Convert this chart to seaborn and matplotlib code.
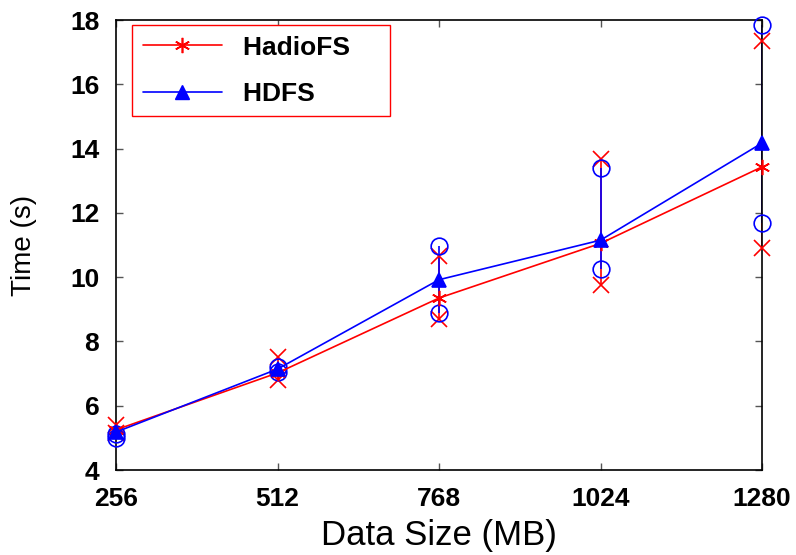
import numpy as np
import pandas as pd
import matplotlib
matplotlib.use("Agg")
import matplotlib.pyplot as plt
from matplotlib.lines import Line2D
import seaborn as sns

# data
sizes = [256, 512, 768, 1024, 1280]

hadio_mean = [5.25, 7.02, 9.35, 11.05, 13.43]
hadio_lo = [5.15, 6.80, 8.70, 9.75, 10.92]
hadio_hi = [5.40, 7.52, 10.65, 13.68, 17.35]

hdfs_mean = [5.18, 7.14, 9.92, 11.15, 14.17]
hdfs_lo = [5.00, 7.05, 8.88, 10.25, 11.67]
hdfs_hi = [5.12, 7.22, 10.97, 13.40, 17.83]

series = ["HadioFS", "HDFS"]
colors = {"HadioFS": "#ff0000", "HDFS": "#0000ff"}

sns.set_style("ticks")
plt.rcParams["font.family"] = ["Liberation Sans", "DejaVu Sans"]
plt.rcParams["text.color"] = "black"
plt.rcParams["axes.labelcolor"] = "black"
plt.rcParams["xtick.labelcolor"] = "black"
plt.rcParams["ytick.labelcolor"] = "black"

df = pd.DataFrame({
    "size": sizes * 2,
    "mean": hadio_mean + hdfs_mean,
    "lo": hadio_lo + hdfs_lo,
    "hi": hadio_hi + hdfs_hi,
    "fs": ["HadioFS"] * 5 + ["HDFS"] * 5,
})

fig = plt.figure(figsize=(7.96, 5.55), dpi=100)
ax = fig.add_axes([116 / 796, 1 - 470 / 555, (762 - 116) / 796, (470 - 20) / 555])

asterisk = (6, 2, 0)
end_marker = {"HadioFS": "x", "HDFS": "o"}
mean_marker = {"HadioFS": asterisk, "HDFS": "^"}

for fs in series:
    d = df[df["fs"] == fs]
    c = colors[fs]
    # error range
    ax.vlines(d["size"], d["lo"], d["hi"], color=c, lw=1.2, zorder=2)
    for col in ["lo", "hi"]:
        ax.plot(d["size"], d[col], ls="none", marker=end_marker[fs], ms=12,
                mfc="none", mec=c, mew=1.2, zorder=3, clip_on=False)
    sns.lineplot(data=d, x="size", y="mean", color=c, lw=1.2, ax=ax,
                 marker=mean_marker[fs], markersize=11 if fs == "HadioFS" else 10,
                 markeredgecolor=c, markerfacecolor=c, markeredgewidth=1.2,
                 zorder=4, clip_on=False)

ax.set_xlim(256, 1280)
ax.set_ylim(4, 18)
ax.set_xticks(sizes)
ax.set_yticks(range(4, 19, 2))
ax.tick_params(direction="in", length=5, width=1, top=True, right=True,
               labelsize=19, color="#555555", labelcolor="black")
ax.tick_params(axis="x", pad=12)
ax.tick_params(axis="y", pad=12)
for lab in ax.get_xticklabels() + ax.get_yticklabels():
    lab.set_fontweight("bold")
for sp in ax.spines.values():
    sp.set_linewidth(1.2)
    sp.set_color("black")

ax.set_xlabel("Data Size (MB)", fontsize=25, labelpad=6, color="black")
ax.set_ylabel("Time (s)", fontsize=20, labelpad=24, color="black")

handles = [
    Line2D([], [], color=colors["HadioFS"], lw=1.2, marker=asterisk, ms=11, mew=1.2),
    Line2D([], [], color=colors["HDFS"], lw=1.2, marker="^", ms=10),
]
leg_labels = [s + "    " for s in series]
leg = ax.legend(handles, leg_labels, loc="upper left", bbox_to_anchor=(0.025, 0.989),
                prop={"weight": "bold", "size": 19}, handlelength=3.0,
                fancybox=False, frameon=True, borderpad=0.4, labelspacing=0.85,
                handletextpad=0.8, borderaxespad=0)
leg.get_frame().set_edgecolor("#ff0000")
leg.get_frame().set_linewidth(1.0)
leg.get_frame().set_alpha(1)
for t in leg.get_texts():
    t.set_color("black")

fig.savefig("out.png", dpi=100)
